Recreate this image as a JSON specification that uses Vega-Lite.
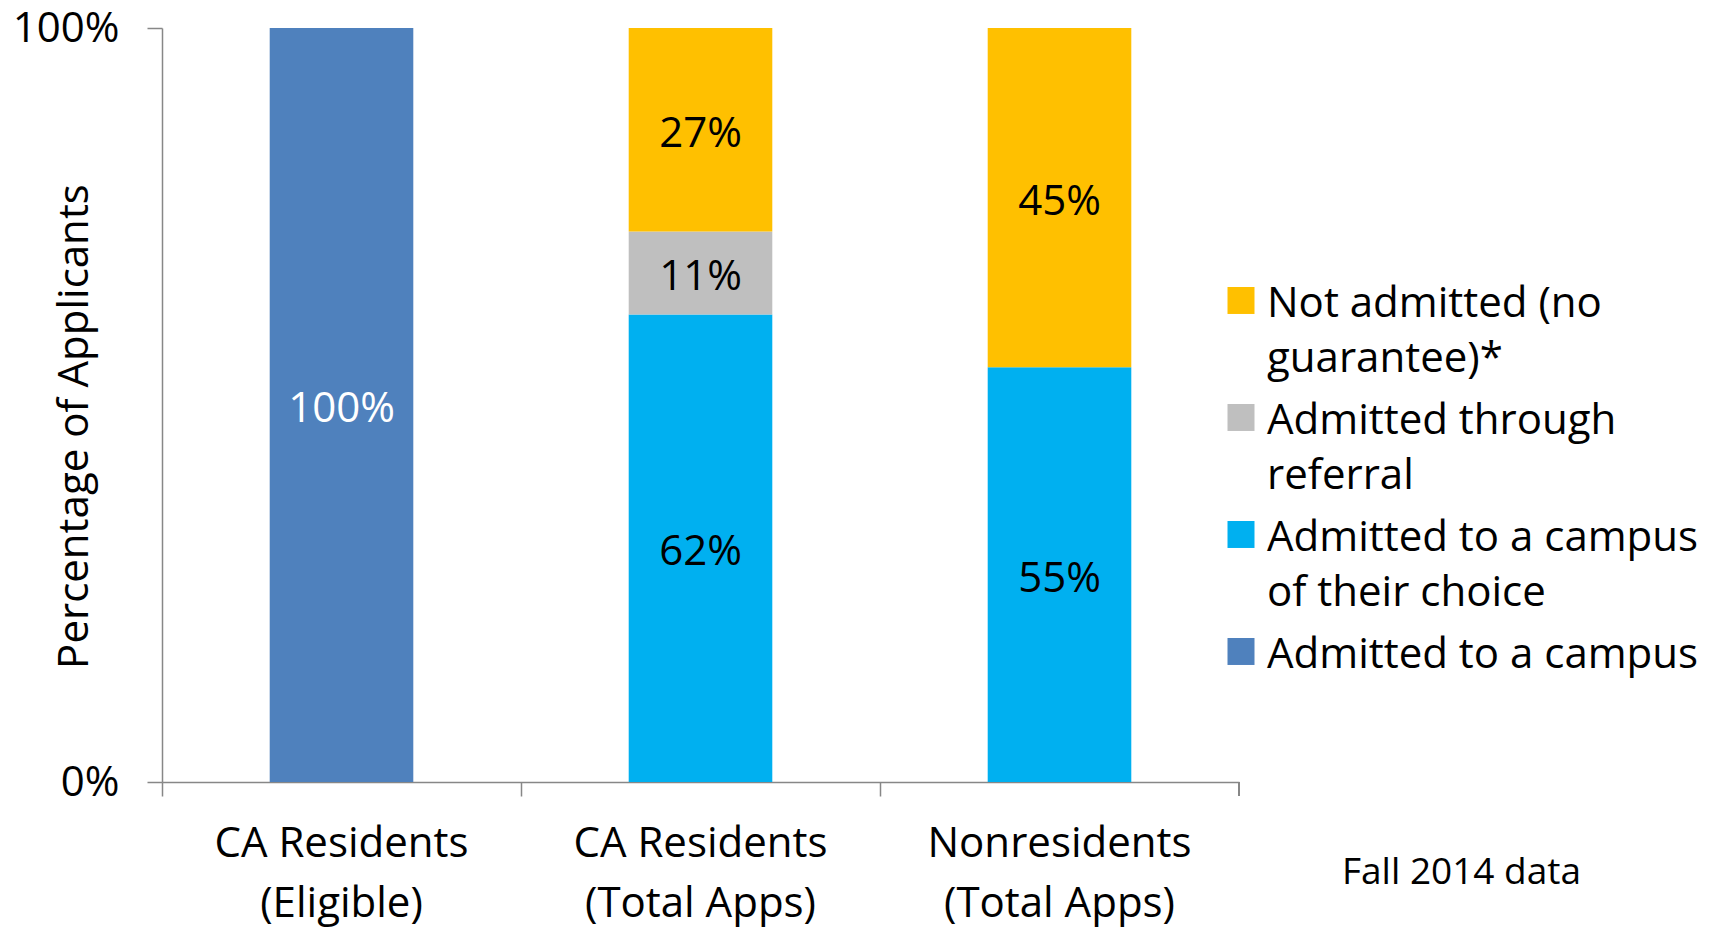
{
  "$schema": "https://vega.github.io/schema/vega-lite/v6.json",
  "width": 1077,
  "height": 754,
  "autosize": {"type": "none"},
  "padding": {"left": 162, "top": 28, "right": 476, "bottom": 145},
  "background": "white",
  "config": {
    "font": "Open Sans",
    "view": {"stroke": null},
    "style": {"guide-label": {"lineHeight": 55}}
  },
  "data": {
    "values": [
      {"group": "CA Residents (Eligible)", "cat": "Admitted to a campus", "share": 1.0, "ord": 1},
      {"group": "CA Residents (Total Apps)", "cat": "Admitted to a campus of their choice", "share": 0.62, "ord": 1},
      {"group": "CA Residents (Total Apps)", "cat": "Admitted through referral", "share": 0.11, "ord": 2},
      {"group": "CA Residents (Total Apps)", "cat": "Not admitted (no guarantee)*", "share": 0.27, "ord": 3},
      {"group": "Nonresidents (Total Apps)", "cat": "Admitted to a campus of their choice", "share": 0.55, "ord": 1},
      {"group": "Nonresidents (Total Apps)", "cat": "Not admitted (no guarantee)*", "share": 0.45, "ord": 3}
    ]
  },
  "encoding": {
    "x": {
      "field": "group",
      "type": "nominal",
      "sort": ["CA Residents (Eligible)", "CA Residents (Total Apps)", "Nonresidents (Total Apps)"],
      "scale": {"paddingInner": 0.6, "paddingOuter": 0.3},
      "axis": {
        "title": "Fall 2014 data",
        "titleX": 1299,
        "titleY": 90,
        "titleBaseline": "middle",
        "titleAlign": "center",
        "titleFontSize": 37,
        "titleFontWeight": "normal",
        "titleColor": "black",
        "labelAngle": 0,
        "labelFontSize": 42,
        "labelColor": "black",
        "labelLineHeight": 60,
        "labelExpr": "[slice(datum.label, 0, indexof(datum.label, ' (')), slice(datum.label, indexof(datum.label, ' (') + 1)]",
        "labelPadding": 27,
        "labelLimit": 600,
        "labelOverlap": false,
        "tickSize": 14,
        "bandPosition": -0.75,
        "domainColor": "#878787",
        "tickColor": "#878787",
        "domainWidth": 1.5,
        "tickWidth": 1.5
      }
    }
  },
  "layer": [
    {
      "mark": {"type": "bar"},
      "encoding": {
        "y": {
          "field": "share",
          "type": "quantitative",
          "stack": "zero",
          "scale": {"domain": [0, 1]},
          "axis": {
            "values": [0, 1],
            "format": ".0%",
            "title": "Percentage of Applicants",
            "titleX": -88,
            "titleY": 398,
            "titleAngle": -90,
            "titleBaseline": "middle",
            "titleAlign": "center",
            "titleFontSize": 42,
            "titleFontWeight": "normal",
            "titleColor": "black",
            "labelFontSize": 42,
            "labelColor": "black",
            "labelPadding": 28,
            "tickSize": 15,
            "grid": false,
            "domainColor": "#878787",
            "tickColor": "#878787",
            "domainWidth": 1.5,
            "tickWidth": 1.5
          }
        },
        "color": {
          "field": "cat",
          "type": "nominal",
          "scale": {
            "domain": ["Not admitted (no guarantee)*", "Admitted through referral", "Admitted to a campus of their choice", "Admitted to a campus"],
            "range": ["#FFC000", "#BFBFBF", "#00B0F0", "#4F81BD"]
          },
          "legend": {
            "orient": "none",
            "legendX": 1058,
            "legendY": 235,
            "title": null,
            "symbolType": "M-1,0.22L1,0.22L1,2.22L-1,2.22Z",
            "symbolSize": 729,
            "symbolStrokeWidth": 0,
            "symbolOpacity": 1,
            "labelFontSize": 42,
            "labelColor": "black",
            "labelLimit": 600,
            "labelOffset": 5,
            "labelBaseline": "top",
            "rowPadding": 0,
            "labelExpr": "datum.label == 'Not admitted (no guarantee)*' ? ['Not admitted (no', 'guarantee)*'] : datum.label == 'Admitted through referral' ? ['Admitted through', 'referral'] : datum.label == 'Admitted to a campus of their choice' ? ['Admitted to a campus', 'of their choice'] : datum.label"
          }
        },
        "order": {"field": "ord", "type": "quantitative"}
      }
    },
    {
      "mark": {"type": "text", "fontSize": 42, "baseline": "middle", "dy": 4},
      "encoding": {
        "y": {"field": "share", "type": "quantitative", "stack": "zero", "bandPosition": 0.5},
        "detail": {"field": "cat"},
        "order": {"field": "ord", "type": "quantitative"},
        "text": {"field": "share", "type": "quantitative", "format": ".0%"},
        "color": {
          "condition": {"test": "datum.cat === 'Admitted to a campus'", "value": "white"},
          "value": "black"
        }
      }
    },
    {
      "mark": {"type": "rule", "color": "#878787", "strokeWidth": 1.5, "y2Offset": 14},
      "encoding": {
        "x": {"datum": "Nonresidents (Total Apps)", "bandPosition": 1.75},
        "y": {"datum": 0},
        "y2": {"datum": 0}
      }
    }
  ]
}
